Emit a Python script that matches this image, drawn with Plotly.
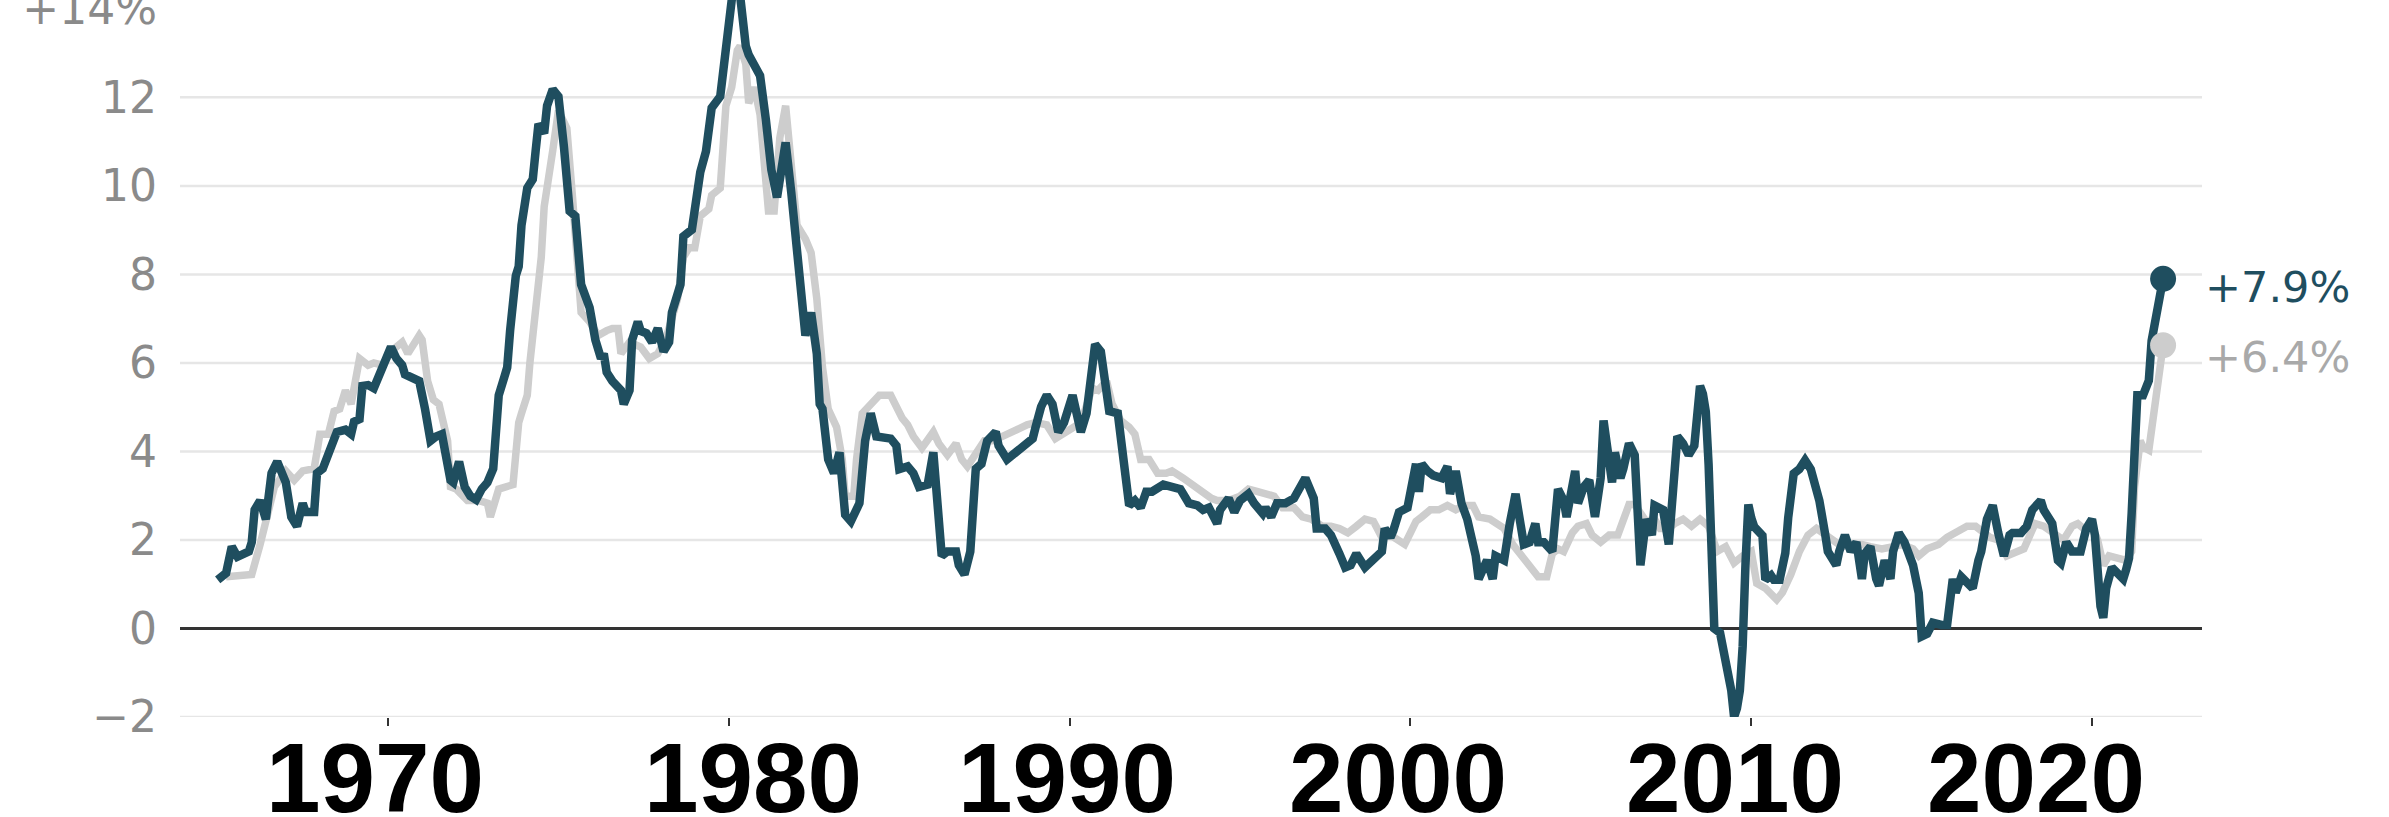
import plotly.graph_objects as go

# ---------------- data ----------------
cpi_dates = [
    "1965-01", "1965-04", "1965-06", "1965-08", "1965-12", "1966-01", "1966-02", "1966-04", "1966-06", "1966-08",
    "1966-10", "1967-01", "1967-03", "1967-05", "1967-07", "1967-08", "1967-11", "1967-12", "1968-02", "1968-04",
    "1968-06", "1968-07", "1968-10", "1968-12", "1969-01", "1969-03", "1969-04", "1969-06", "1969-08", "1969-10",
    "1969-12", "1970-02", "1970-04", "1970-06", "1970-07", "1970-12", "1971-02", "1971-04", "1971-06", "1971-08",
    "1971-11", "1971-12", "1972-02", "1972-04", "1972-06", "1972-08", "1972-10", "1972-12", "1973-02", "1973-03",
    "1973-04", "1973-06", "1973-07", "1973-08", "1973-09", "1973-10", "1973-11", "1973-12", "1974-02", "1974-04",
    "1974-05", "1974-06", "1974-08", "1974-09", "1974-11", "1975-01", "1975-03", "1975-04", "1975-05", "1975-07",
    "1975-08", "1975-09", "1975-12", "1976-02", "1976-04", "1976-05", "1976-06", "1976-08", "1976-11", "1976-12",
    "1977-02", "1977-03", "1977-05", "1977-06", "1977-08", "1977-10", "1977-12", "1978-02", "1978-04", "1978-05",
    "1978-08", "1978-09", "1978-12", "1979-02", "1979-03", "1979-05", "1979-06", "1979-07", "1979-10", "1979-11",
    "1979-12", "1980-01", "1980-02", "1980-03", "1980-04", "1980-05", "1980-06", "1980-07", "1980-08", "1980-10",
    "1980-12", "1981-02", "1981-04", "1981-06", "1981-08", "1981-09", "1981-11", "1982-01", "1982-03", "1982-04",
    "1982-06", "1982-08", "1982-09", "1982-10", "1982-12", "1983-02", "1983-04", "1983-06", "1983-08", "1983-11",
    "1984-01", "1984-03", "1984-05", "1984-10", "1984-12", "1985-01", "1985-04", "1985-06", "1985-08", "1985-11",
    "1986-01", "1986-03", "1986-04", "1986-06", "1986-09", "1986-10", "1986-12", "1987-02", "1987-04", "1987-06",
    "1987-08", "1987-11", "1987-12", "1988-03", "1988-06", "1988-09", "1988-12", "1989-01", "1989-03", "1989-05",
    "1989-07", "1989-09", "1989-11", "1990-02", "1990-03", "1990-05", "1990-07", "1990-09", "1990-10", "1990-12",
    "1991-03", "1991-06", "1991-07", "1991-10", "1991-12", "1992-02", "1992-04", "1992-06", "1992-10", "1993-01",
    "1993-04", "1993-07", "1993-10", "1993-12", "1994-02", "1994-05", "1994-06", "1994-09", "1994-11", "1995-01",
    "1995-04", "1995-06", "1995-09", "1995-10", "1995-12", "1996-02", "1996-05", "1996-08", "1996-10", "1996-12",
    "1997-03", "1997-04", "1997-07", "1997-09", "1997-12", "1998-02", "1998-04", "1998-06", "1998-09", "1998-12",
    "1999-03", "1999-04", "1999-06", "1999-07", "1999-09", "1999-12", "2000-01", "2000-03", "2000-04", "2000-05",
    "2000-07", "2000-09", "2000-12", "2001-02", "2001-03", "2001-05", "2001-07", "2001-09", "2001-12", "2002-01",
    "2002-04", "2002-06", "2002-07", "2002-10", "2002-12", "2003-02", "2003-03", "2003-05", "2003-07", "2003-09",
    "2003-10", "2003-12", "2004-03", "2004-05", "2004-07", "2004-08", "2004-11", "2004-12", "2005-02", "2005-04",
    "2005-06", "2005-08", "2005-09", "2005-11", "2005-12", "2006-01", "2006-03", "2006-04", "2006-06", "2006-08",
    "2006-09", "2006-10", "2006-12", "2007-02", "2007-03", "2007-05", "2007-06", "2007-08", "2007-10", "2007-11",
    "2008-01", "2008-03", "2008-05", "2008-07", "2008-08", "2008-09", "2008-10", "2008-11", "2008-12", "2009-02",
    "2009-04", "2009-06", "2009-07", "2009-08", "2009-09", "2009-10", "2009-11", "2009-12", "2010-01", "2010-02",
    "2010-05", "2010-06", "2010-08", "2010-09", "2010-11", "2011-01", "2011-02", "2011-04", "2011-06", "2011-08",
    "2011-10", "2011-12", "2012-01", "2012-03", "2012-04", "2012-07", "2012-08", "2012-10", "2012-12", "2013-02",
    "2013-04", "2013-05", "2013-07", "2013-09", "2013-10", "2013-12", "2014-02", "2014-03", "2014-05", "2014-07",
    "2014-09", "2014-10", "2014-12", "2015-01", "2015-03", "2015-05", "2015-08", "2015-10", "2015-12", "2016-01",
    "2016-03", "2016-05", "2016-07", "2016-09", "2016-10", "2016-12", "2017-02", "2017-04", "2017-06", "2017-08",
    "2017-09", "2017-12", "2018-02", "2018-04", "2018-07", "2018-08", "2018-10", "2018-11", "2019-01", "2019-02",
    "2019-04", "2019-06", "2019-08", "2019-09", "2019-11", "2020-01", "2020-02", "2020-03", "2020-04", "2020-05",
    "2020-06", "2020-08", "2020-10", "2020-12", "2021-01", "2021-02", "2021-03", "2021-04", "2021-05", "2021-07",
    "2021-09", "2021-10", "2021-11", "2021-12", "2022-01", "2022-02",
]
cpi_values = [
    1.10, 1.25, 1.85, 1.62, 1.74, 1.95, 2.68, 2.89, 2.47, 3.51,
    3.77, 3.30, 2.52, 2.31, 2.83, 2.63, 2.63, 3.51, 3.61, 3.92,
    4.18, 4.44, 4.49, 4.39, 4.67, 4.73, 5.48, 5.50, 5.43, 5.74,
    5.95, 6.36, 6.10, 5.95, 5.74, 5.59, 4.96, 4.24, 4.34, 4.39,
    3.35, 3.30, 3.77, 3.20, 2.99, 2.91, 3.15, 3.30, 3.61, 4.24,
    5.27, 5.69, 5.90, 6.73, 7.40, 7.97, 8.18, 9.11, 9.95, 10.15,
    10.78, 11.40, 11.19, 11.81, 12.18, 12.02, 10.88, 10.15, 9.43, 9.32,
    8.39, 7.77, 7.25, 6.52, 6.10, 6.21, 5.79, 5.59, 5.38, 5.07,
    5.38, 6.52, 6.93, 6.72, 6.67, 6.47, 6.78, 6.26, 6.47, 7.14,
    7.77, 8.86, 9.01, 9.84, 10.31, 10.78, 11.40, 11.76, 12.02, 12.64,
    13.37, 13.94, 14.20, 14.60, 14.60, 14.30, 13.60, 13.16, 12.96, 12.75,
    12.49, 11.50, 10.36, 9.74, 10.78, 10.98, 9.84, 8.49, 6.93, 6.62,
    7.14, 6.21, 5.07, 4.96, 3.82, 3.51, 3.98, 2.57, 2.42, 2.83,
    4.24, 4.86, 4.34, 4.29, 4.13, 3.60, 3.66, 3.51, 3.20, 3.25,
    3.98, 2.68, 1.64, 1.74, 1.74, 1.43, 1.22, 1.74, 3.61, 3.72,
    4.24, 4.44, 4.13, 3.82, 3.98, 4.18, 4.29, 4.55, 5.01, 5.27,
    5.07, 4.44, 4.65, 5.27, 5.01, 4.44, 4.86, 6.21, 6.42, 6.26,
    4.91, 4.86, 4.24, 2.78, 2.89, 2.73, 3.09, 3.09, 3.25, 3.20,
    3.15, 2.83, 2.78, 2.68, 2.73, 2.37, 2.68, 2.94, 2.63, 2.89,
    3.04, 2.83, 2.60, 2.73, 2.52, 2.83, 2.83, 2.94, 3.20, 3.40,
    2.94, 2.26, 2.26, 2.11, 1.69, 1.38, 1.43, 1.69, 1.38, 1.59,
    1.74, 2.26, 2.06, 2.21, 2.63, 2.73, 3.04, 3.72, 3.09, 3.72,
    3.56, 3.46, 3.40, 3.66, 3.04, 3.56, 2.83, 2.47, 1.64, 1.12,
    1.54, 1.12, 1.64, 1.54, 2.37, 3.04, 2.68, 1.90, 1.95, 2.37,
    1.95, 1.95, 1.74, 3.15, 2.89, 2.52, 3.56, 2.83, 3.20, 3.35,
    2.52, 3.40, 4.70, 3.82, 3.30, 3.98, 3.40, 3.61, 4.18, 3.92,
    2.26, 1.43, 2.47, 2.11, 2.78, 2.73, 2.68, 1.90, 3.20, 4.34,
    4.18, 3.92, 4.13, 5.48, 5.30, 4.90, 3.70, 1.10, 0.00, -0.10,
    -0.75, -1.40, -2.00, -1.80, -1.40, -0.40, 1.50, 2.80, 2.50, 2.30,
    2.10, 1.10, 1.20, 1.10, 1.10, 1.70, 2.50, 3.50, 3.60, 3.80,
    3.60, 3.10, 2.89, 2.16, 1.74, 1.43, 1.74, 2.11, 1.74, 1.95,
    1.12, 1.69, 1.85, 1.12, 0.97, 1.54, 1.12, 1.74, 2.16, 1.95,
    1.64, 1.43, 0.80, -0.18, -0.12, 0.13, 0.08, 0.08, 1.12, 0.81,
    1.17, 1.02, 0.91, 1.54, 1.74, 2.47, 2.78, 2.16, 1.64, 2.11,
    2.16, 2.16, 2.31, 2.68, 2.89, 2.68, 2.42, 2.37, 1.54, 1.48,
    1.95, 1.74, 1.74, 1.74, 2.26, 2.47, 2.11, 1.30, 0.50, 0.24,
    0.91, 1.38, 1.28, 1.12, 1.33, 1.59, 2.60, 4.30, 5.27, 5.27,
    5.60, 6.50, 6.93, 7.20, 7.50, 7.90,
]

core_dates = [
    "1965-04", "1965-08", "1966-01", "1966-04", "1966-07", "1966-09", "1967-01", "1967-04", "1967-07", "1967-11",
    "1968-01", "1968-04", "1968-06", "1968-08", "1968-10", "1968-12", "1969-03", "1969-06", "1969-08", "1969-11",
    "1970-03", "1970-06", "1970-08", "1970-09", "1970-12", "1971-01", "1971-03", "1971-05", "1971-07", "1971-10",
    "1971-11", "1972-01", "1972-05", "1972-09", "1972-12", "1973-01", "1973-03", "1973-04", "1973-09", "1973-10",
    "1973-11", "1973-12", "1974-02", "1974-03", "1974-05", "1974-07", "1974-08", "1974-09", "1974-11", "1975-01",
    "1975-04", "1975-06", "1975-08", "1975-09", "1975-12", "1976-03", "1976-06", "1976-08", "1976-10", "1976-11",
    "1977-02", "1977-06", "1977-09", "1977-12", "1978-03", "1978-07", "1978-09", "1978-11", "1979-01", "1979-03",
    "1979-06", "1979-07", "1979-10", "1979-11", "1979-12", "1980-02", "1980-04", "1980-05", "1980-07", "1980-08",
    "1980-10", "1980-12", "1981-02", "1981-03", "1981-05", "1981-07", "1981-09", "1981-11", "1982-01", "1982-04",
    "1982-06", "1982-08", "1982-10", "1982-12", "1983-03", "1983-05", "1983-06", "1983-09", "1983-10", "1983-12",
    "1984-04", "1984-06", "1984-10", "1984-12", "1985-02", "1985-04", "1985-06", "1985-09", "1985-11", "1986-01",
    "1986-03", "1986-06", "1986-09", "1986-11", "1987-01", "1987-04", "1987-07", "1987-10", "1988-01", "1988-06",
    "1988-10", "1989-01", "1989-05", "1989-08", "1989-12", "1990-02", "1990-05", "1990-09", "1990-11", "1991-02",
    "1991-04", "1991-07", "1991-10", "1991-12", "1992-02", "1992-05", "1992-08", "1992-11", "1993-01", "1993-05",
    "1993-08", "1993-11", "1994-03", "1994-05", "1994-09", "1995-01", "1995-04", "1995-07", "1995-10", "1996-01",
    "1996-04", "1996-08", "1996-11", "1997-02", "1997-06", "1997-09", "1997-12", "1998-03", "1998-06", "1998-09",
    "1998-12", "1999-03", "1999-06", "1999-09", "1999-11", "2000-01", "2000-03", "2000-05", "2000-08", "2000-11",
    "2001-02", "2001-05", "2001-08", "2001-11", "2002-01", "2002-05", "2002-07", "2002-10", "2003-01", "2003-04",
    "2003-06", "2003-08", "2003-10", "2004-01", "2004-03", "2004-05", "2004-07", "2004-10", "2004-12", "2005-03",
    "2005-05", "2005-08", "2005-11", "2006-02", "2006-04", "2006-06", "2006-08", "2006-10", "2006-12", "2007-03",
    "2007-05", "2007-08", "2007-10", "2008-01", "2008-04", "2008-07", "2008-10", "2009-01", "2009-04", "2009-07",
    "2009-10", "2010-01", "2010-03", "2010-06", "2010-10", "2010-12", "2011-03", "2011-06", "2011-09", "2011-12",
    "2012-03", "2012-06", "2012-09", "2012-12", "2013-04", "2013-07", "2013-11", "2014-03", "2014-06", "2014-10",
    "2014-12", "2015-03", "2015-07", "2015-10", "2016-02", "2016-05", "2016-08", "2016-11", "2017-01", "2017-04",
    "2017-07", "2018-01", "2018-05", "2018-08", "2018-12", "2019-03", "2019-06", "2019-08", "2019-10", "2020-01",
    "2020-03", "2020-05", "2020-07", "2020-10", "2021-01", "2021-03", "2021-04", "2021-06", "2021-07", "2021-09",
    "2021-12", "2022-01", "2022-02",
]
core_values = [
    1.17, 1.20, 1.22, 1.90, 2.68, 3.20, 3.56, 3.35, 3.56, 3.61,
    4.39, 4.39, 4.91, 4.96, 5.38, 5.07, 6.10, 5.95, 6.00, 5.95,
    6.31, 6.47, 6.21, 6.31, 6.62, 6.52, 5.59, 5.17, 5.07, 4.24,
    3.20, 3.15, 2.89, 2.89, 2.83, 2.52, 2.99, 3.15, 3.25, 4.13,
    4.65, 4.86, 5.27, 6.00, 7.14, 8.39, 9.53, 10.05, 10.80, 11.70,
    11.30, 9.74, 8.18, 7.14, 6.93, 6.62, 6.73, 6.78, 6.78, 6.21,
    6.47, 6.36, 6.10, 6.21, 6.57, 7.45, 8.39, 8.60, 8.60, 9.32,
    9.48, 9.79, 9.95, 10.78, 11.81, 12.23, 13.06, 13.16, 12.75, 11.87,
    12.23, 11.61, 10.05, 9.43, 9.43, 11.09, 11.81, 10.57, 9.11, 8.80,
    8.49, 7.45, 5.90, 4.96, 4.55, 3.82, 2.99, 2.99, 3.82, 4.86,
    5.17, 5.27, 5.27, 4.96, 4.75, 4.60, 4.34, 4.08, 4.24, 4.44,
    4.18, 3.92, 4.18, 3.82, 3.66, 3.92, 4.24, 4.24, 4.34, 4.49,
    4.60, 4.65, 4.60, 4.29, 4.44, 4.55, 4.65, 5.43, 5.38, 5.59,
    5.07, 4.70, 4.55, 4.39, 3.82, 3.82, 3.51, 3.51, 3.56, 3.40,
    3.25, 3.15, 2.94, 2.89, 2.89, 2.99, 3.15, 3.10, 3.05, 2.99,
    2.73, 2.73, 2.52, 2.47, 2.31, 2.31, 2.26, 2.16, 2.31, 2.47,
    2.42, 2.06, 2.11, 2.00, 1.90, 2.16, 2.42, 2.52, 2.68, 2.68,
    2.78, 2.68, 2.78, 2.78, 2.52, 2.47, 2.37, 2.26, 1.90, 1.64,
    1.48, 1.33, 1.17, 1.17, 1.69, 1.80, 1.74, 2.16, 2.31, 2.37,
    2.11, 1.95, 2.11, 2.11, 2.42, 2.80, 2.80, 2.60, 2.42, 2.47,
    2.26, 2.26, 2.37, 2.47, 2.31, 2.47, 2.31, 1.74, 1.85, 1.48,
    1.64, 1.74, 1.02, 0.91, 0.65, 0.81, 1.22, 1.74, 2.11, 2.26,
    2.11, 1.95, 1.85, 1.90, 1.90, 1.85, 1.80, 1.85, 1.90, 1.80,
    1.64, 1.80, 1.90, 2.06, 2.21, 2.31, 2.31, 2.16, 2.06, 2.00,
    1.64, 1.80, 2.37, 2.31, 2.11, 2.00, 2.31, 2.37, 2.26, 2.31,
    2.00, 1.43, 1.64, 1.59, 1.54, 1.74, 3.20, 4.24, 4.10, 4.03,
    5.50, 6.00, 6.40,
]

tick_years = [1970, 1980, 1990, 2000, 2010, 2020]
y_tick_values = [-2, 0, 2, 4, 6, 8, 10, 12, 14]
y_tick_labels = ["\u22122", "0", "2", "4", "6", "8", "10", "12", "+14%"]
grid_values = [-2, 2, 4, 6, 8, 10, 12]

# ---------------- styling ----------------
DARK = "#1f4e5f"
GRAY = "#cdcdcd"
GRAY_TEXT = "#a9a9a9"
TICK_GRAY = "#8a8a8a"
# horizontal offsets (px) of the big year labels relative to their tick marks
year_label_shift = [-13, 24, -3, -12, -16, -56]

fig = go.Figure()

fig.add_trace(go.Scatter(x=core_dates, y=core_values, mode="lines",
                         line=dict(color=GRAY, width=7.5), hoverinfo="skip"))
fig.add_trace(go.Scatter(x=cpi_dates, y=cpi_values, mode="lines",
                         line=dict(color=DARK, width=8.5), hoverinfo="skip"))
fig.add_trace(go.Scatter(x=[core_dates[-1]], y=[core_values[-1]], mode="markers",
                         marker=dict(color=GRAY, size=26), cliponaxis=False, hoverinfo="skip"))
fig.add_trace(go.Scatter(x=[cpi_dates[-1]], y=[cpi_values[-1]], mode="markers",
                         marker=dict(color=DARK, size=26), cliponaxis=False, hoverinfo="skip"))

# horizontal gridlines (no line at the top +14% label)
for g in grid_values:
    fig.add_shape(type="line", xref="paper", x0=0, x1=1, yref="y", y0=g, y1=g,
                  line=dict(color="#e6e6e6", width=2.5), layer="below")

# big bold year labels under the tick marks
for yr, dx in zip(tick_years, year_label_shift):
    fig.add_annotation(x=f"{yr}-01-01", xref="x", y=0, yref="paper",
                       yanchor="top", xanchor="center", xshift=dx, yshift=-4,
                       text=str(yr), showarrow=False,
                       font=dict(family="Liberation Sans", size=98, color="black", weight="bold"))

fig.add_annotation(x=1, xref="paper", xanchor="left", xshift=1,
                   y=cpi_values[-1], yref="y", yanchor="middle", yshift=-8,
                   text=f"+{cpi_values[-1]:.1f}%", showarrow=False,
                   font=dict(family="DejaVu Sans", size=43, color=DARK))
fig.add_annotation(x=1, xref="paper", xanchor="left", xshift=1,
                   y=core_values[-1], yref="y", yanchor="middle", yshift=-12,
                   text=f"+{core_values[-1]:.1f}%", showarrow=False,
                   font=dict(family="DejaVu Sans", size=43, color=GRAY_TEXT))

fig.update_layout(
    width=2389, height=817,
    margin=dict(l=180, r=187, t=0, b=100, autoexpand=False),
    paper_bgcolor="white", plot_bgcolor="white",
    showlegend=False,
    xaxis=dict(
        type="date",
        range=["1963-11-24", "2023-03-25"],
        tickvals=[f"{y}-01-01" for y in tick_years],
        ticktext=["" for _ in tick_years],
        ticks="outside", ticklen=8, tickwidth=2, tickcolor="#333333",
        showgrid=False, zeroline=False, showline=False, automargin=False,
    ),
    yaxis=dict(
        range=[-2, 14.2],
        tickvals=y_tick_values, ticktext=y_tick_labels,
        showgrid=False, showline=False, ticks="", automargin=False,
        zeroline=True, zerolinecolor="#333333", zerolinewidth=3,
        tickfont=dict(family="DejaVu Sans", size=44, color=TICK_GRAY),
        ticklabelstandoff=22, ticklabeloverflow="allow",
    ),
)

# the default page body has an 8px margin; remove it so the figure fills the window exactly
fig.write_html("out.html",
               config={"displayModeBar": False, "staticPlot": True},
               post_script="document.body.style.margin='0';document.body.style.overflow='hidden';")
